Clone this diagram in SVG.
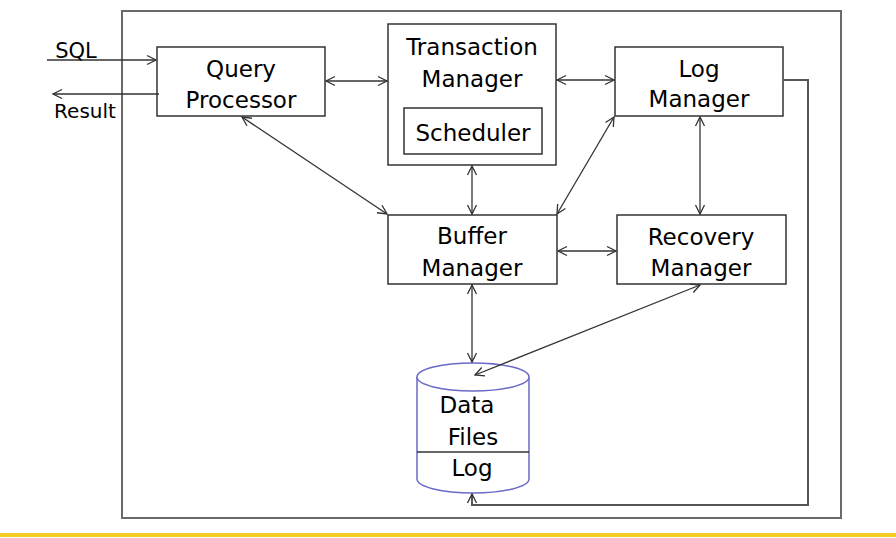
<svg xmlns="http://www.w3.org/2000/svg" width="896" height="538" viewBox="0 0 896 538">
<defs>
<marker id="ah" markerUnits="userSpaceOnUse" markerWidth="14" markerHeight="14" refX="10" refY="5" orient="auto-start-reverse" overflow="visible">
<path d="M1,0.5 L10,5 L1,9.5" fill="none" stroke="#333" stroke-width="1.3"/>
</marker>
</defs>
<style>
.box{fill:#fff;stroke:#333;stroke-width:1.5}
.t{font-family:"DejaVu Sans",Verdana,sans-serif;font-size:23px;fill:#000;text-anchor:middle}
.c{fill:none;stroke:#333;stroke-width:1.3}
.frame{fill:none;stroke:#6a6a6a;stroke-width:2}
.cyl{fill:#fff;stroke:#6a6ac8;stroke-width:1.5}
</style>
<rect width="896" height="538" fill="#fff"/>
<rect x="122" y="11" width="719" height="507" class="frame"/>
<rect x="0" y="533" width="896" height="4" fill="#f3cd22"/>

<g id="query-processor">
<rect x="157" y="47" width="168" height="69" class="box"/>
<text x="241" y="77" class="t">Query</text>
<text x="241" y="108" class="t">Processor</text>
</g>
<g id="transaction-manager">
<rect x="388" y="24" width="168" height="141" class="box"/>
<text x="472" y="55" class="t">Transaction</text>
<text x="472" y="87" class="t">Manager</text>
</g>
<g id="scheduler">
<rect x="404" y="108" width="138" height="46" class="box"/>
<text x="473" y="141" class="t">Scheduler</text>
</g>
<g id="log-manager">
<rect x="615" y="47" width="168" height="69" class="box"/>
<text x="699" y="77" class="t">Log</text>
<text x="699" y="107" class="t">Manager</text>
</g>
<g id="buffer-manager">
<rect x="388" y="215" width="169" height="69" class="box"/>
<text x="472" y="244" class="t">Buffer</text>
<text x="472" y="276" class="t">Manager</text>
</g>
<g id="recovery-manager">
<rect x="617" y="215" width="169" height="69" class="box"/>
<text x="701" y="245" class="t">Recovery</text>
<text x="701" y="276" class="t">Manager</text>
</g>
<g id="data-files-log">
<path d="M417,377 L417,479 A56,14 0 0 0 529,479 L529,377" class="cyl"/>
<ellipse cx="473" cy="377" rx="56" ry="14" class="cyl"/>
<line x1="417" y1="452" x2="529" y2="452" stroke="#333" stroke-width="1.3"/>
<text x="467" y="413" class="t">Data</text>
<text x="473" y="445" class="t">Files</text>
<text x="472" y="476" class="t">Log</text>
</g>

<g id="connectors">
<line x1="47" y1="60" x2="156" y2="60" class="c" marker-end="url(#ah)"/>
<line x1="159" y1="94" x2="53" y2="94" class="c" marker-end="url(#ah)"/>
<line x1="326" y1="81" x2="387" y2="81" class="c" marker-start="url(#ah)" marker-end="url(#ah)"/>
<line x1="557" y1="80" x2="614" y2="80" class="c" marker-start="url(#ah)" marker-end="url(#ah)"/>
<line x1="242" y1="117" x2="387" y2="214" class="c" marker-start="url(#ah)" marker-end="url(#ah)"/>
<line x1="472" y1="166" x2="472" y2="214" class="c" marker-start="url(#ah)" marker-end="url(#ah)"/>
<line x1="614" y1="117" x2="557" y2="214" class="c" marker-start="url(#ah)" marker-end="url(#ah)"/>
<line x1="700" y1="117" x2="700" y2="214" class="c" marker-start="url(#ah)" marker-end="url(#ah)"/>
<line x1="558" y1="251" x2="616" y2="251" class="c" marker-start="url(#ah)" marker-end="url(#ah)"/>
<line x1="472" y1="285" x2="472" y2="362" class="c" marker-start="url(#ah)" marker-end="url(#ah)"/>
<line x1="700" y1="285" x2="475" y2="375" class="c" marker-start="url(#ah)" marker-end="url(#ah)"/>
<path d="M783,80 L808,80 L808,505 L472,505 L472,494" fill="none" stroke="#555" stroke-width="2" marker-end="url(#ah)"/>
</g>
<text x="76" y="58" class="t" style="font-size:21px">SQL</text>
<text x="85" y="118" class="t" style="font-size:20px">Result</text>
</svg>
